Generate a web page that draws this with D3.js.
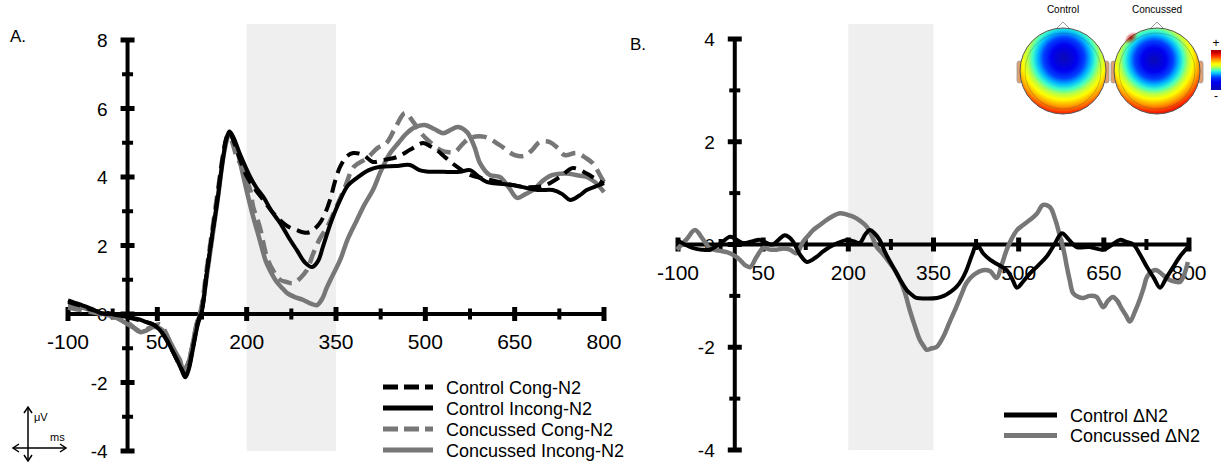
<!DOCTYPE html>
<html>
<head>
<meta charset="utf-8">
<script src="https://cdn.jsdelivr.net/npm/d3@7"></script>
<style>
  body { margin: 0; background: #fff; }
  svg { display: block; font-family: "Liberation Sans", Arial, Helvetica, sans-serif; }
</style>
</head>
<body>
<svg id="chart" width="1223" height="462"></svg>
<script>
// --- Data: [ms, µV] ---
const ctrlCong = [[-100,0.35],[-80,0.25],[-60,0.12],[-40,0.05],[-20,-0.02],[0,-0.1],[20,-0.18],[35,-0.26],[48,-0.36],[58,-0.55],[66,-0.78],[76,-1.1],[83,-1.34],[90,-1.58],[97,-1.8],[103,-1.55],[110,-0.95],[118,-0.25],[125,0.15],[133,1.2],[142,2.3],[150,3.3],[160,4.6],[166,5.15],[171,5.3],[178,5.05],[188,4.55],[198,4.1],[206,3.85],[216,3.6],[228,3.33],[242,3.0],[256,2.74],[270,2.55],[284,2.45],[296,2.38],[306,2.39],[315,2.5],[323,2.66],[332,2.95],[340,3.33],[348,3.85],[357,4.3],[368,4.6],[379,4.7],[396,4.64],[412,4.44],[430,4.5],[452,4.58],[475,4.8],[496,4.99],[508,4.9],[519,4.79],[535,4.55],[553,4.3],[575,4.06],[600,3.95],[625,3.85],[650,3.75],[675,3.7],[700,3.75],[726,4.0],[748,4.26],[771,4.1],[785,3.95],[800,3.8]];
const ctrlIncong = [[-100,0.4],[-80,0.28],[-60,0.15],[-46,0.03],[-20,-0.02],[0,-0.09],[20,-0.16],[32,-0.24],[40,-0.28],[49,-0.38],[58,-0.55],[66,-0.76],[76,-1.1],[83,-1.34],[90,-1.6],[97,-1.85],[103,-1.6],[110,-1.0],[118,-0.3],[125,0.1],[133,1.2],[142,2.3],[150,3.2],[160,4.5],[166,5.1],[171,5.33],[178,5.15],[188,4.7],[198,4.3],[206,4.0],[216,3.7],[228,3.42],[242,3.0],[256,2.66],[270,2.25],[284,1.87],[298,1.5],[310,1.37],[320,1.55],[328,1.96],[342,2.7],[357,3.33],[370,3.75],[385,3.97],[405,4.2],[424,4.3],[450,4.32],[474,4.35],[490,4.2],[502,4.16],[530,4.15],[558,4.15],[575,4.2],[590,4.0],[603,3.86],[625,3.8],[647,3.77],[670,3.68],[692,3.62],[714,3.62],[730,3.5],[743,3.33],[758,3.45],[771,3.62],[785,3.72],[800,3.82]];
const concCong = [[-100,0.18],[-80,0.12],[-60,0.05],[-40,-0.02],[-20,-0.1],[0,-0.25],[21,-0.5],[38,-0.4],[54,-0.3],[63,-0.5],[71,-0.82],[82,-1.3],[93,-1.64],[100,-1.5],[108,-1.0],[116,-0.3],[124,0.2],[132,1.2],[141,2.3],[150,3.4],[160,4.6],[166,5.1],[170,5.25],[176,5.0],[183,4.6],[189,4.4],[194,4.2],[200,3.9],[206,3.62],[211,3.12],[222,2.54],[234,1.66],[245,1.25],[256,1.0],[268,0.93],[278,0.9],[290,1.05],[301,1.28],[312,1.78],[323,2.2],[335,2.54],[350,3.1],[365,3.7],[380,4.3],[402,4.55],[420,4.85],[435,5.0],[450,5.45],[466,5.87],[480,5.6],[492,5.3],[504,5.08],[525,4.79],[540,4.72],[550,4.73],[562,4.95],[575,5.14],[600,5.17],[625,4.93],[650,4.64],[667,4.62],[680,4.8],[692,5.02],[709,5.02],[722,4.85],[734,4.64],[754,4.7],[770,4.55],[781,4.4],[796,3.97],[800,3.85]];
const concIncong = [[-100,0.22],[-80,0.2],[-60,0.1],[-40,0.0],[-20,-0.1],[0,-0.3],[10,-0.4],[21,-0.53],[32,-0.48],[43,-0.38],[55,-0.42],[63,-0.55],[71,-0.8],[80,-1.1],[88,-1.34],[94,-1.68],[100,-1.55],[108,-1.0],[116,-0.3],[124,0.1],[133,1.1],[142,2.2],[151,3.3],[161,4.6],[167,5.1],[172,5.3],[178,5.1],[184,4.79],[192,4.2],[200,3.6],[210,2.9],[222,2.16],[232,1.55],[239,1.28],[250,0.95],[260,0.75],[268,0.61],[280,0.5],[295,0.41],[308,0.3],[318,0.26],[327,0.45],[334,0.75],[345,1.15],[357,1.58],[370,2.2],[385,2.74],[398,3.2],[412,3.62],[426,4.2],[441,4.7],[455,5.0],[469,5.28],[482,5.45],[499,5.52],[515,5.4],[530,5.28],[545,5.4],[555,5.46],[570,5.31],[582,4.9],[592,4.4],[608,4.06],[625,4.0],[640,3.7],[654,3.39],[668,3.5],[681,3.62],[698,3.9],[714,4.06],[737,4.1],[755,4.05],[771,4.0],[785,3.85],[800,3.56]];

const ctrlDelta = [[-102,0.09],[-88,0.0],[-73,-0.07],[-58,-0.1],[-44,-0.1],[-25,0.02],[-8,0.15],[5,0.08],[15,0.03],[30,0.06],[44,0.09],[56,0.03],[67,0.0],[78,0.1],[88,0.18],[96,0.14],[103,0.05],[115,-0.2],[127,-0.34],[136,-0.3],[144,-0.24],[155,-0.14],[167,-0.05],[182,0.03],[197,0.09],[210,0.06],[220,0.03],[230,0.2],[238,0.28],[246,0.22],[255,0.09],[266,-0.18],[279,-0.44],[291,-0.68],[303,-0.89],[312,-0.98],[320,-1.04],[340,-1.05],[356,-1.04],[368,-1.0],[380,-0.92],[390,-0.83],[400,-0.68],[408,-0.5],[418,-0.2],[426,0.0],[438,-0.18],[450,-0.3],[465,-0.4],[479,-0.5],[489,-0.68],[497,-0.84],[508,-0.72],[520,-0.56],[535,-0.4],[549,-0.24],[563,0.0],[576,0.22],[588,0.1],[602,-0.05],[625,-0.05],[649,-0.1],[665,0.0],[678,0.09],[690,0.05],[702,0.0],[714,-0.2],[726,-0.44],[738,-0.65],[749,-0.84],[760,-0.65],[772,-0.44],[785,-0.22],[798,-0.05]];
const concDelta = [[-102,-0.1],[-85,0.1],[-70,0.28],[-56,0.1],[-44,-0.07],[-28,-0.12],[-14,-0.15],[0,-0.22],[9,-0.3],[18,-0.4],[27,-0.44],[38,-0.25],[50,-0.07],[62,-0.1],[74,-0.1],[86,-0.08],[97,-0.1],[109,-0.17],[120,0.05],[130,0.18],[138,0.28],[150,0.38],[162,0.48],[174,0.56],[185,0.61],[198,0.58],[209,0.54],[222,0.45],[233,0.34],[242,0.15],[250,-0.05],[262,-0.2],[273,-0.36],[282,-0.5],[291,-0.69],[300,-0.95],[308,-1.27],[317,-1.58],[326,-1.86],[333,-1.98],[338,-2.05],[347,-2.02],[356,-1.99],[367,-1.8],[378,-1.52],[390,-1.22],[400,-0.95],[408,-0.75],[420,-0.6],[437,-0.5],[450,-0.52],[461,-0.65],[470,-0.4],[479,-0.1],[488,0.12],[497,0.28],[508,0.38],[520,0.48],[532,0.6],[543,0.77],[555,0.73],[564,0.5],[573,0.15],[580,-0.15],[585,-0.44],[590,-0.7],[596,-0.95],[605,-1.02],[614,-1.04],[625,-1.0],[637,-1.02],[649,-1.22],[657,-1.1],[666,-1.02],[674,-1.1],[681,-1.24],[689,-1.38],[696,-1.5],[705,-1.3],[713,-1.08],[720,-0.85],[726,-0.63],[735,-0.52],[743,-0.5],[755,-0.6],[766,-0.69],[775,-0.72],[784,-0.73],[791,-0.6],[798,-0.34]];

// --- Ticks & labels ---
const xMajorTicks = [-100, 50, 200, 350, 500, 650, 800];
const xMinorTicks = [-25, 125, 275, 425, 575, 725];
const yMajorTicksA = [-4, -2, 0, 2, 4, 6, 8];
const yMinorTicksA = [-3, -1, 1, 3, 5, 7];
const yMajorTicksB = [-4, -2, 0, 2, 4];
const yMinorTicksB = [-3, -1, 1, 3];
const window_ms = [200, 350];

const seriesA = [
  { name: "Concussed Incong-N2", data: concIncong, color: "#777", dash: null },
  { name: "Concussed Cong-N2", data: concCong, color: "#777", dash: "14,7" },
  { name: "Control Incong-N2", data: ctrlIncong, color: "#000", dash: null },
  { name: "Control Cong-N2", data: ctrlCong, color: "#000", dash: "13,7" }
];
const legendA = ["Control Cong-N2", "Control Incong-N2", "Concussed Cong-N2", "Concussed Incong-N2"];
const seriesB = [
  { name: "Concussed \u0394N2", data: concDelta, color: "#777", dash: null },
  { name: "Control \u0394N2", data: ctrlDelta, color: "#000", dash: null }
];
const legendB = ["Control \u0394N2", "Concussed \u0394N2"];

// jet colour map for the scalp maps
const jetColors = ["#0a0ab4", "#0000f0", "#0040ff", "#00b8ff", "#40ffc8", "#b8ff48", "#ffff00", "#ffa000", "#ff3000", "#d00000", "#a00000"];
const jetOffsets = [0, 0.2, 0.32, 0.41, 0.49, 0.57, 0.65, 0.75, 0.85, 0.93, 1];

const svg = d3.select("#chart");
const defs = svg.append("defs");

function drawPanel(p) {
  const g = svg.append("g");
  const x = p.x, y = p.y;

  // shaded analysis window
  g.append("rect")
    .attr("x", x(window_ms[0]))
    .attr("y", p.bandTop)
    .attr("width", x(window_ms[1]) - x(window_ms[0]))
    .attr("height", y(y.domain()[0]) - p.bandTop)
    .attr("fill", "#efefef");

  // axes
  g.append("line")
    .attr("x1", x(-100)).attr("x2", x(800))
    .attr("y1", y(0)).attr("y2", y(0))
    .attr("stroke", "#000").attr("stroke-width", 4);
  g.append("line")
    .attr("x1", x(0)).attr("x2", x(0))
    .attr("y1", y(y.domain()[0])).attr("y2", y(y.domain()[1]))
    .attr("stroke", "#000").attr("stroke-width", 4);

  g.selectAll(".xmaj").data(xMajorTicks).enter().append("line")
    .attr("x1", d => x(d)).attr("x2", d => x(d))
    .attr("y1", y(0) - 7).attr("y2", y(0) + 7)
    .attr("stroke", "#000").attr("stroke-width", 5);
  g.selectAll(".xmin").data(xMinorTicks).enter().append("line")
    .attr("x1", d => x(d)).attr("x2", d => x(d))
    .attr("y1", y(0) - 5.5).attr("y2", y(0) + 5.5)
    .attr("stroke", "#000").attr("stroke-width", 4);
  g.selectAll(".ymaj").data(p.yMajor).enter().append("line")
    .attr("x1", x(0) - 7).attr("x2", x(0) + 7)
    .attr("y1", d => y(d)).attr("y2", d => y(d))
    .attr("stroke", "#000").attr("stroke-width", 5);
  g.selectAll(".ymin").data(p.yMinor).enter().append("line")
    .attr("x1", x(0) - 5.5).attr("x2", x(0) + 5.5)
    .attr("y1", d => y(d)).attr("y2", d => y(d))
    .attr("stroke", "#000").attr("stroke-width", 4);

  g.selectAll(".xlab").data(xMajorTicks).enter().append("text")
    .attr("x", d => x(d)).attr("y", y(0) + 35)
    .attr("text-anchor", "middle")
    .attr("font-size", 21)
    .text(d => d);
  g.selectAll(".ylab").data(p.yMajor).enter().append("text")
    .attr("x", x(0) - 20).attr("y", d => y(d) + 7)
    .attr("text-anchor", "end")
    .attr("font-size", 19)
    .text(d => d);

  // waveforms
  const line = d3.line()
    .x(d => x(d[0])).y(d => y(d[1]))
    .curve(d3.curveCatmullRom.alpha(0.5));
  p.series.forEach(s => {
    g.append("path")
      .datum(s.data)
      .attr("d", line)
      .attr("fill", "none")
      .attr("stroke", s.color)
      .attr("stroke-width", s.color === "#000" ? 4 : 4.5)
      .attr("stroke-dasharray", s.dash)
      .attr("stroke-linejoin", "round");
  });

  // legend
  const lg = g.append("g");
  const item = lg.selectAll(".item").data(p.legend).enter().append("g")
    .attr("transform", (d, i) => `translate(${p.legendX},${p.legendY + i * p.legendStep})`);
  item.append("line")
    .attr("x1", 0).attr("x2", p.legendLen)
    .attr("stroke", d => p.series.find(s => s.name === d).color)
    .attr("stroke-width", 5)
    .attr("stroke-dasharray", d => p.series.find(s => s.name === d).dash ? "15,6" : null);
  item.append("text")
    .attr("x", p.legendLen + 13).attr("y", 6.5)
    .attr("font-size", 18)
    .text(d => d);

  svg.append("text")
    .attr("x", p.labelX).attr("y", p.labelY)
    .attr("font-size", 17)
    .text(p.label);
}

drawPanel({
  x: d3.scaleLinear().domain([-100, 800]).range([68, 604]),
  y: d3.scaleLinear().domain([-4, 8]).range([451, 40]),
  yMajor: yMajorTicksA, yMinor: yMinorTicksA,
  bandTop: 24,
  series: seriesA, legend: legendA,
  legendX: 383, legendY: 387, legendStep: 21, legendLen: 50,
  label: "A.", labelX: 10, labelY: 42
});

drawPanel({
  x: d3.scaleLinear().domain([-100, 800]).range([678, 1189]),
  y: d3.scaleLinear().domain([-4, 4]).range([450, 39]),
  yMajor: yMajorTicksB, yMinor: yMinorTicksB,
  bandTop: 24,
  series: seriesB, legend: legendB,
  legendX: 1004, legendY: 415, legendStep: 20.5, legendLen: 53,
  label: "B.", labelX: 630, labelY: 50
});

// --- axis orientation icon ---
const icon = svg.append("g").attr("stroke", "#000").attr("stroke-width", 1.5).attr("fill", "none");
icon.append("line").attr("x1", 28).attr("x2", 28).attr("y1", 408).attr("y2", 460);
icon.append("line").attr("x1", 13).attr("x2", 66).attr("y1", 448).attr("y2", 448);
icon.append("path").attr("d", "M24,413 L28,407 L32,413");
icon.append("path").attr("d", "M24,455 L28,461 L32,455");
icon.append("path").attr("d", "M19,444 L13,448 L19,452");
icon.append("path").attr("d", "M60,444 L66,448 L60,452");
svg.append("text").attr("x", 34).attr("y", 421).attr("font-size", 11).text("\u03bcV");
svg.append("text").attr("x", 50).attr("y", 441).attr("font-size", 11).text("ms");

// --- scalp topographies ---
const addStops = sel => sel.selectAll("stop").data(jetColors).enter().append("stop")
  .attr("offset", (d, i) => jetOffsets[i])
  .attr("stop-color", d => d);
const grad = (id, cx, cy, r) => {
  const gr = defs.append("radialGradient").attr("id", id)
    .attr("gradientUnits", "userSpaceOnUse")
    .attr("cx", cx).attr("cy", cy).attr("r", r).attr("fx", cx).attr("fy", cy);
  addStops(gr);
};
const heads = [
  { label: "Control", cx: 1063, cy: 71, blobX: 1064, blobY: 58, r: 64 },
  { label: "Concussed", cx: 1157, cy: 71, blobX: 1154, blobY: 60, r: 60 }
];
heads.forEach((h, i) => {
  grad("jet" + i, h.blobX, h.blobY, h.r);
  const hg = svg.append("g");
  hg.append("path")
    .attr("d", `M${h.cx - 7},${h.cy - 42} L${h.cx},${h.cy - 49} L${h.cx + 7},${h.cy - 42}`)
    .attr("fill", "none").attr("stroke", "#999").attr("stroke-width", 1);
  [-1, 1].forEach(side => {
    hg.append("rect")
      .attr("x", side < 0 ? h.cx - 46 : h.cx + 41).attr("y", h.cy - 10)
      .attr("width", 5).attr("height", 22).attr("rx", 2.5)
      .attr("fill", "#e0a070").attr("stroke", "#999").attr("stroke-width", 0.8);
  });
  hg.append("circle")
    .attr("cx", h.cx).attr("cy", h.cy).attr("r", 43)
    .attr("fill", `url(#jet${i})`)
    .attr("stroke", "#555").attr("stroke-width", 1);
  hg.append("circle")
    .attr("cx", h.cx).attr("cy", h.cy).attr("r", 38)
    .attr("fill", "none").attr("stroke", "#333").attr("stroke-opacity", 0.3).attr("stroke-width", 0.8);
  svg.append("text")
    .attr("x", h.cx).attr("y", 13)
    .attr("text-anchor", "middle").attr("font-size", 10)
    .text(h.label);
});
// dark red patch at the edge of the concussed map
defs.append("radialGradient").attr("id", "patch")
  .call(gr => {
    gr.append("stop").attr("offset", 0).attr("stop-color", "#a00000").attr("stop-opacity", 0.9);
    gr.append("stop").attr("offset", 1).attr("stop-color", "#d00000").attr("stop-opacity", 0);
  });
svg.append("ellipse").attr("cx", 1131).attr("cy", 38).attr("rx", 8).attr("ry", 5)
  .attr("transform", "rotate(-40,1131,38)").attr("fill", "url(#patch)");

// colour bar
const cb = defs.append("linearGradient").attr("id", "cbar").attr("x1", 0).attr("x2", 0).attr("y1", 1).attr("y2", 0);
addStops(cb);
svg.append("rect").attr("x", 1211).attr("y", 50).attr("width", 10).attr("height", 40).attr("fill", "url(#cbar)");
svg.append("text").attr("x", 1216).attr("y", 47).attr("text-anchor", "middle").attr("font-size", 12).text("+");
svg.append("text").attr("x", 1216).attr("y", 100).attr("text-anchor", "middle").attr("font-size", 12).text("-");
</script>
</body>
</html>
